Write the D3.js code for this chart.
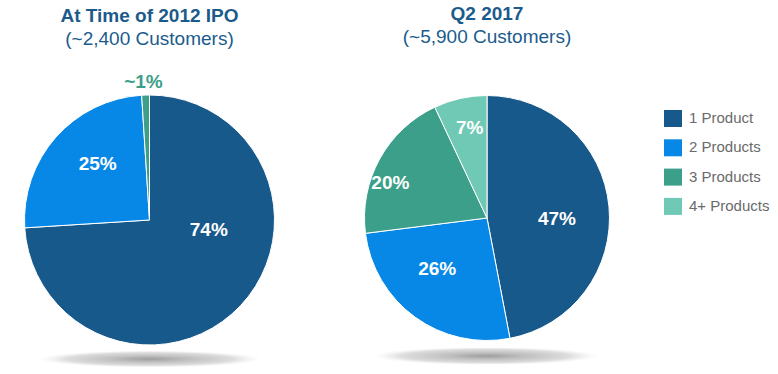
<!DOCTYPE html>
<html>
  <head>
    <meta charset="utf-8">
    <title></title>
    <script src="https://cdn.jsdelivr.net/npm/d3@7"></script>
    <style>
      body { margin: 0; background: #fff; }
      text { font-family: "Liberation Sans", Arial, sans-serif; }
    </style>
  </head>
  <body>
    <script type="text/javascript">

    var width = 778,
        height = 374;

    // data
    var categories = ["1 Product", "2 Products", "3 Products", "4+ Products"];
    var ipoValues = [74, 25, 1];          // At Time of 2012 IPO
    var ipoLabels = ["74%", "25%", "~1%"];
    var q2Values = [47, 26, 20, 7];       // Q2 2017
    var q2Labels = ["47%", "26%", "20%", "7%"];
    var titles = ["At Time of 2012 IPO", "Q2 2017"];
    var subtitles = ["(~2,400 Customers)", "(~5,900 Customers)"];

    var colors = d3.scaleOrdinal()
        .domain(categories)
        .range(["#18598b", "#0788e6", "#3b9f89", "#6fc9b5"]);

    var svg = d3.select("body").append("svg")
        .attr("width", width)
        .attr("height", height);

    var defs = svg.append("defs");
    var grad = defs.append("radialGradient").attr("id", "shadow");
    grad.append("stop").attr("offset", "0%").attr("stop-color", "#9e9e9e").attr("stop-opacity", 1);
    grad.append("stop").attr("offset", "35%").attr("stop-color", "#c0c0c0").attr("stop-opacity", 1);
    grad.append("stop").attr("offset", "75%").attr("stop-color", "#dddddd").attr("stop-opacity", 1);
    grad.append("stop").attr("offset", "100%").attr("stop-color", "#eeeeee").attr("stop-opacity", 0);

    var pie = d3.pie().sort(null).value(function(d) { return d; });

    // chart layouts (positions only)
    var charts = [
      {values: ipoValues, labels: ipoLabels, cx: 149.5, cy: 220, r: 125, shadow: [150, 359, 111, 8.5],
       titleY: 22, subY: 45,
       nudge: [[-0.6, 60], [0.11, 77], [0, 0]]},
      {values: q2Values, labels: q2Labels, cx: 487, cy: 218, r: 122.5, shadow: [486, 356, 112, 9],
       titleY: 20, subY: 43,
       nudge: [[0.1, 70], [0.15, 71], [-0.15, 103], [0.03, 92]]}
    ];

    charts.forEach(function(c, ci) {
      var g = svg.append("g");

      g.append("ellipse")
          .attr("cx", c.shadow[0])
          .attr("cy", c.shadow[1])
          .attr("rx", c.shadow[2])
          .attr("ry", c.shadow[3])
          .attr("fill", "url(#shadow)");

      g.append("text")
          .attr("x", c.cx)
          .attr("y", c.titleY)
          .attr("text-anchor", "middle")
          .attr("font-size", 19)
          .attr("font-weight", "bold")
          .attr("fill", "#1b5b8c")
          .text(titles[ci]);

      g.append("text")
          .attr("x", c.cx)
          .attr("y", c.subY)
          .attr("text-anchor", "middle")
          .attr("font-size", 19)
          .attr("fill", "#1b5b8c")
          .text(subtitles[ci]);

      var arcs = pie(c.values);
      var arc = d3.arc().innerRadius(0).outerRadius(c.r);

      var pg = g.append("g").attr("transform", "translate(" + c.cx + "," + c.cy + ")");

      pg.selectAll("path")
          .data(arcs)
          .enter().append("path")
          .attr("d", arc)
          .attr("fill", function(d, i) { return colors(categories[i]); })
          .attr("stroke", "#fff")
          .attr("stroke-width", 1);

      pg.selectAll("text")
          .data(arcs)
          .enter().append("text")
          .attr("transform", function(d, i) {
            var small = (d.endAngle - d.startAngle) < 0.1;
            var a, rr;
            if (small) {
              a = (d.startAngle + d.endAngle) / 2 - 0.012;
              rr = c.r + 14;
            } else {
              a = (d.startAngle + d.endAngle) / 2 + c.nudge[i][0];
              rr = c.nudge[i][1];
            }
            return "translate(" + (Math.sin(a) * rr) + "," + (-Math.cos(a) * rr) + ")";
          })
          .attr("dy", "0.35em")
          .attr("text-anchor", "middle")
          .attr("font-size", 19)
          .attr("font-weight", "bold")
          .attr("fill", function(d) {
            return (d.endAngle - d.startAngle) < 0.1 ? "#3b9f89" : "#fff";
          })
          .text(function(d, i) { return c.labels[i]; });
    });

    // legend
    var legend = svg.append("g").attr("transform", "translate(664,110)");

    var rows = legend.selectAll("g")
        .data(categories)
        .enter().append("g")
        .attr("transform", function(d, i) { return "translate(0," + (i * 29.3) + ")"; });

    rows.append("rect")
        .attr("width", 18)
        .attr("height", 17)
        .attr("fill", function(d) { return colors(d); });

    rows.append("text")
        .attr("x", 25)
        .attr("y", 13)
        .attr("font-size", 15)
        .attr("fill", "#6a6a6a")
        .text(function(d) { return d; });

    </script>
  </body>
</html>
